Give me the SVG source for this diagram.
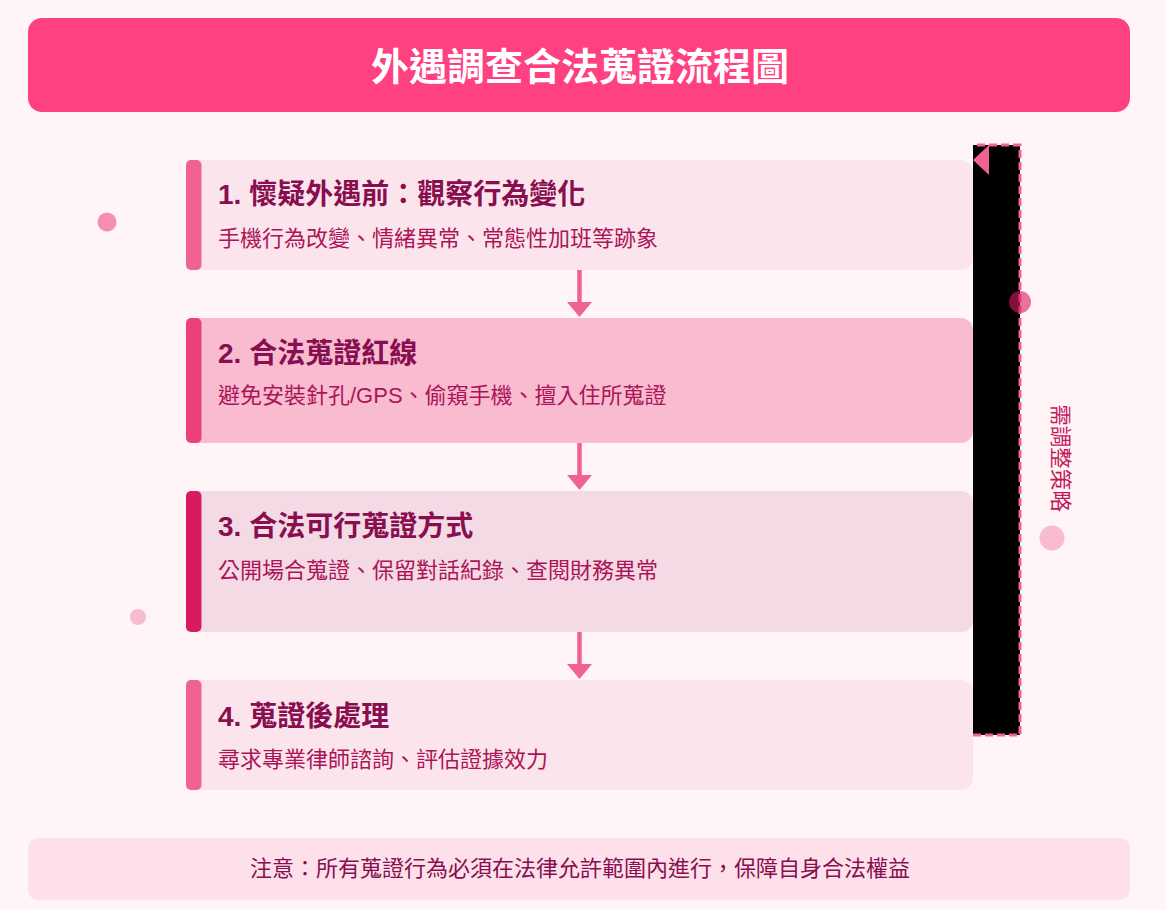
<svg xmlns="http://www.w3.org/2000/svg" width="1166" height="910" viewBox="0 0 1166 910">
<style>
.ttl{font-family:"Liberation Sans","Noto Sans CJK TC",sans-serif;font-weight:bold;font-size:28px;fill:#880e4f}
.sub{font-family:"Liberation Sans","Noto Sans CJK TC",sans-serif;font-size:22px;fill:#ad1457}
.arr{stroke:#f06292;stroke-width:4.5;fill:none}
.head{fill:#f06292}
</style>
<rect width="1166" height="910" fill="#fff4f6"/>
<g id="title">
<rect x="28" y="18" width="1102" height="94" rx="14" fill="#ff4081"/>
<text x="580" y="80" text-anchor="middle" font-family="Liberation Sans,'Noto Sans CJK TC',sans-serif" font-weight="bold" font-size="38" fill="#ffffff">外遇調查合法蒐證流程圖</text>
</g>
<g id="decor">
<circle cx="107" cy="222" r="9.5" fill="#f48fb1"/>
<circle cx="138" cy="617" r="8" fill="#f8bbd0"/>
<circle cx="1052" cy="538" r="12.5" fill="#f8bbd0"/>
</g>
<g id="step1">
<rect x="186" y="160" width="787" height="110" rx="12" fill="#fce4ec"/>
<rect x="186" y="160" width="15.5" height="110" rx="5" fill="#f06292"/>
<text class="ttl" x="218" y="204">1. 懷疑外遇前：觀察行為變化</text>
<text class="sub" x="218" y="246">手機行為改變、情緒異常、常態性加班等跡象</text>
</g>
<g id="step2">
<rect x="186" y="318" width="787" height="125" rx="12" fill="#f8bbd0"/>
<rect x="186" y="318" width="15.5" height="125" rx="5" fill="#ec407a"/>
<text class="ttl" x="218" y="363">2. 合法蒐證紅線</text>
<text class="sub" x="218" y="403">避免安裝針孔/GPS、偷窺手機、擅入住所蒐證</text>
</g>
<g id="step3">
<rect x="186" y="491" width="787" height="141" rx="12" fill="#f3dae5"/>
<rect x="186" y="491" width="15.5" height="141" rx="5" fill="#d81b60"/>
<text class="ttl" x="218" y="536">3. 合法可行蒐證方式</text>
<text class="sub" x="218" y="578">公開場合蒐證、保留對話紀錄、查閱財務異常</text>
</g>
<g id="step4">
<rect x="186" y="680" width="787" height="110" rx="12" fill="#fce4ec"/>
<rect x="186" y="680" width="15.5" height="110" rx="5" fill="#f06292"/>
<text class="ttl" x="218" y="726">4. 蒐證後處理</text>
<text class="sub" x="218" y="767">尋求專業律師諮詢、評估證據效力</text>
</g>
<g id="connectors">
<line class="arr" x1="579.5" y1="270" x2="579.5" y2="304"/>
<polygon class="head" points="567,302 592,302 579.5,317"/>
<line class="arr" x1="579.5" y1="443" x2="579.5" y2="477"/>
<polygon class="head" points="567,475 592,475 579.5,490"/>
<line class="arr" x1="579.5" y1="632" x2="579.5" y2="666"/>
<polygon class="head" points="567,664 592,664 579.5,679"/>
<path d="M973 735 H1020 V145 H973" fill="#000000" stroke="#f8609a" stroke-width="3" stroke-dasharray="8 4"/>
<polygon class="head" points="973,160 989,145 989,175"/>
<text x="1060" y="458" transform="rotate(90 1060 458)" text-anchor="middle" dominant-baseline="central" font-family="Liberation Sans,'Noto Sans CJK TC',sans-serif" font-size="21.5" fill="#c2185b">需調整策略</text>
</g>
<circle cx="1020" cy="302" r="11" fill="#d81b60" opacity="0.6"/>
<g id="note">
<rect x="28" y="838" width="1102" height="62" rx="10" fill="#fde0ea"/>
<text x="580" y="876" text-anchor="middle" font-family="Liberation Sans,'Noto Sans CJK TC',sans-serif" font-size="22" fill="#880e4f">注意：所有蒐證行為必須在法律允許範圍內進行，保障自身合法權益</text>
</g>
</svg>
